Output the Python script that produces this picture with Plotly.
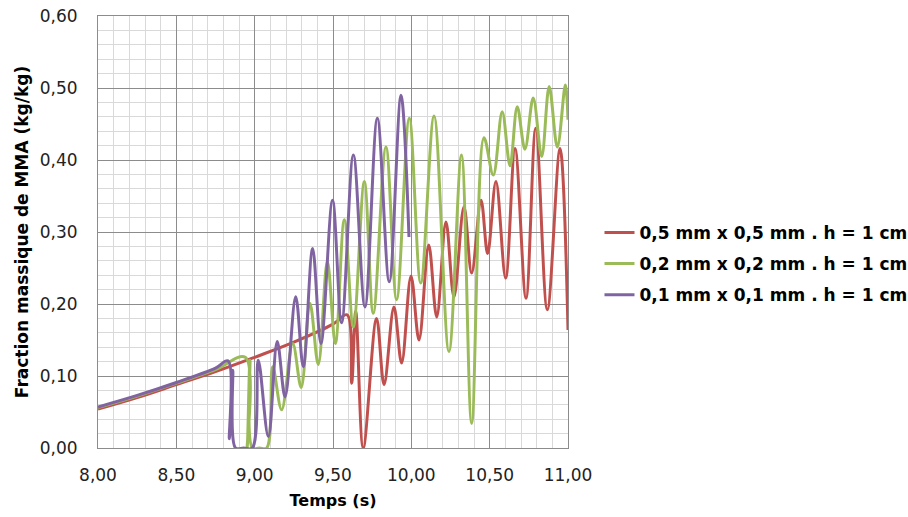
import plotly.graph_objects as go

# ---- data ----
red_name = "0,5 mm x 0,5 mm . h = 1 cm"
red_x = [8.00, 8.25, 8.50, 8.75, 9.00, 9.25, 9.50, 9.59, 9.619, 9.645, 9.693,
         9.778, 9.826, 9.889, 9.938, 9.998, 10.049, 10.111, 10.162, 10.221, 10.272,
         10.336, 10.385, 10.445, 10.487, 10.540, 10.602, 10.662, 10.732, 10.794,
         10.868, 10.949, 11.00]
red_y = [0.054, 0.070, 0.088, 0.106, 0.126, 0.147, 0.172, 0.185, 0.090, 0.190, 0.000,
         0.180, 0.088, 0.196, 0.118, 0.239, 0.150, 0.282, 0.182, 0.314, 0.210,
         0.335, 0.243, 0.344, 0.270, 0.370, 0.236, 0.416, 0.208, 0.444,
         0.192, 0.416, 0.164]

green_name = "0,2 mm x 0,2 mm . h = 1 cm"
green_x = [8.00, 8.25, 8.50, 8.75, 8.94, 8.952, 8.97, 8.985, 9.03, 9.077, 9.115,
           9.172, 9.243, 9.297, 9.353, 9.406, 9.464, 9.515, 9.572, 9.630, 9.700,
           9.757, 9.838, 9.906, 9.987, 10.060, 10.145, 10.240, 10.320, 10.385,
           10.464, 10.523, 10.580, 10.630, 10.676, 10.725, 10.778, 10.832, 10.880,
           10.932, 10.983, 11.00]
green_y = [0.056, 0.072, 0.090, 0.109, 0.126, 0.000, 0.122, 0.000, 0.000, 0.000, 0.113,
           0.053, 0.145, 0.084, 0.201, 0.116, 0.259, 0.145, 0.317, 0.168, 0.370,
           0.187, 0.418, 0.206, 0.458, 0.229, 0.461, 0.134, 0.407, 0.034,
           0.431, 0.379, 0.467, 0.392, 0.474, 0.415, 0.486, 0.405, 0.502,
           0.418, 0.504, 0.456]

purple_name = "0,1 mm x 0,1 mm . h = 1 cm"
purple_x = [8.00, 8.25, 8.50, 8.75, 8.83, 8.838, 8.86, 8.878, 8.93, 8.985, 9.023,
            9.087, 9.144, 9.194, 9.262, 9.310, 9.370, 9.423, 9.497, 9.555, 9.630,
            9.704, 9.783, 9.859, 9.934, 9.985]
purple_y = [0.057, 0.073, 0.091, 0.111, 0.121, 0.013, 0.108, 0.000, 0.000, 0.000, 0.122,
            0.016, 0.148, 0.071, 0.210, 0.113, 0.277, 0.145, 0.344, 0.174, 0.407,
            0.196, 0.458, 0.231, 0.490, 0.293]

x_ticks = [8.0, 8.5, 9.0, 9.5, 10.0, 10.5, 11.0]
y_ticks = [0.0, 0.1, 0.2, 0.3, 0.4, 0.5, 0.6]

colors = ["#C0504D", "#9BBB59", "#8064A2"]
FONT = "DejaVu Sans"

fig = go.Figure()
for i, (name, xs, ys, c) in enumerate([(red_name, red_x, red_y, colors[0]),
                                       (green_name, green_x, green_y, colors[1]),
                                       (purple_name, purple_x, purple_y, colors[2])]):
    fig.add_trace(go.Scatter(x=xs, y=ys, mode="lines", name=name, legendgroup=f"g{i}",
                             line=dict(color=c, width=3, shape="spline", smoothing=1)))

fig.update_layout(
    width=908, height=517,
    margin=dict(l=98, r=340, t=16, b=69, autoexpand=False),
    plot_bgcolor="white", paper_bgcolor="white",
    separators=", ",
    font=dict(family=FONT, size=17, color="#000000"),
    showlegend=True,
    legend=dict(x=1.067, y=0.426, xanchor="left", yanchor="middle",
                font=dict(family=FONT, size=17, weight="bold", color="#000000"),
                tracegroupgap=6, traceorder="grouped",
                bgcolor="rgba(0,0,0,0)"),
)
fig.update_xaxes(
    range=[8, 11], tickvals=x_ticks, tickformat=".2f",
    showgrid=True, gridcolor="#8c8c8c", gridwidth=1,
    minor=dict(dtick=0.1, tick0=8, showgrid=True, gridcolor="#d9d9d9", gridwidth=1),
    showline=True, linecolor="#8c8c8c", linewidth=1, mirror=True,
    zeroline=False, ticks="", ticklabelstandoff=12,
    tickfont=dict(family=FONT, size=17, color="#222222"),
    title=dict(text="Temps (s)", font=dict(family=FONT, size=16, weight="bold"), standoff=10),
)
fig.update_yaxes(
    range=[0, 0.6], tickvals=y_ticks, tickformat=".2f",
    showgrid=True, gridcolor="#8c8c8c", gridwidth=1,
    minor=dict(dtick=0.02, tick0=0, showgrid=True, gridcolor="#d9d9d9", gridwidth=1),
    showline=True, linecolor="#8c8c8c", linewidth=1, mirror=True,
    zeroline=False, ticks="", ticklabelstandoff=16,
    tickfont=dict(family=FONT, size=17, color="#222222"),
    title=dict(text="Fraction massique de MMA (kg/kg)", font=dict(family=FONT, size=17, weight="bold"), standoff=6),
)

fig.write_html("out.html", config={"displayModeBar": False},
               post_script="document.body.style.margin='0';")
